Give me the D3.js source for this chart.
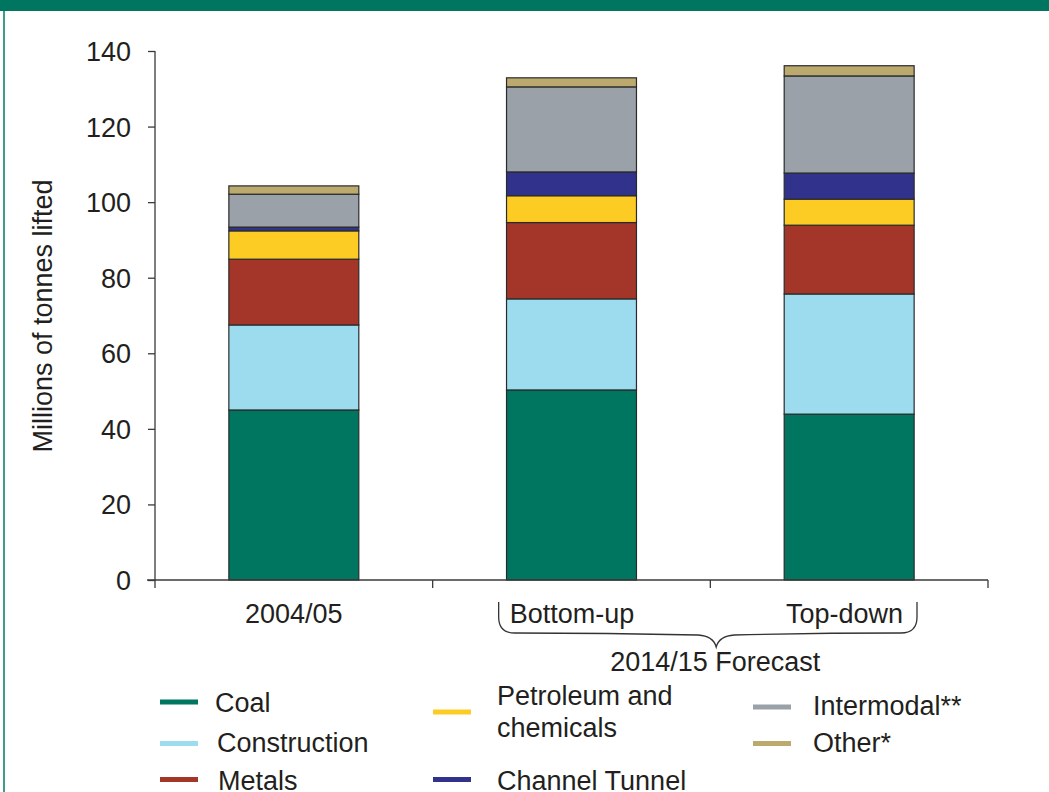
<!DOCTYPE html>
<html><head><meta charset="utf-8">
<script src="https://cdn.jsdelivr.net/npm/d3@7"></script>
<style>
html,body{margin:0;padding:0;background:#fff;}
svg{display:block;font-family:"Liberation Sans",Arial,Helvetica,sans-serif;}
</style></head>
<body>
<svg id="chart" width="1049" height="792"></svg>
<script>
const categories = ["2004/05", "Bottom-up", "Top-down"];
const seriesNames = ["Coal", "Construction", "Metals", "Petroleum and chemicals", "Channel Tunnel", "Intermodal**", "Other*"];
const coal         = [45.0, 50.3, 43.9];
const construction = [22.5, 24.1, 31.8];
const metals       = [17.4, 20.2, 18.2];
const petroleum    = [7.5, 7.1, 6.9];
const channel      = [1.0, 6.3, 6.9];
const intermodal   = [8.7, 22.5, 25.7];
const other        = [2.2, 2.4, 2.7];
const yTicks = [0, 20, 40, 60, 80, 100, 120, 140];
const colors = ["#00755f", "#9ddcee", "#a33628", "#fccc25", "#31328c", "#9aa1a8", "#bca96e"];
const groupLabel = "2014/15 Forecast";
const yTitle = "Millions of tonnes lifted";

(function () {
const seriesValues = [coal, construction, metals, petroleum, channel, intermodal, other];
const keys = ["coal","construction","metals","petroleum","channel","intermodal","other"];
const table = categories.map((c, i) => {
  const row = {category: c};
  keys.forEach((k, j) => row[k] = seriesValues[j][i]);
  return row;
});

const svg = d3.select("#chart");
const textColor = "#231f20";
const axisColor = "#3a3a3a";
const fs = "27px";

// frame
svg.append("rect").attr("x", 0).attr("y", 0).attr("width", 1049).attr("height", 11).attr("fill", "#00755f");
svg.append("line").attr("x1", 4).attr("x2", 4).attr("y1", 11).attr("y2", 792)
  .attr("stroke", "#3f9d8b").attr("stroke-width", 2);

const x = d3.scaleBand().domain(categories).range([155, 988]).paddingInner(0.532).paddingOuter(0.266);
const y = d3.scaleLinear().domain([0, 140]).range([580, 51]);

const stacked = d3.stack().keys(keys)(table);

svg.append("g").selectAll("g.layer").data(stacked).join("g").attr("class", "layer")
  .attr("fill", (d, i) => colors[i])
  .selectAll("rect").data(d => d).join("rect")
  .attr("x", d => x(d.data.category))
  .attr("width", x.bandwidth())
  .attr("y", d => y(d[1]))
  .attr("height", d => y(d[0]) - y(d[1]))
  .attr("stroke", "#2a2a2a").attr("stroke-width", 1.2);

// y axis
const yAxis = svg.append("g").attr("transform", "translate(155,0)")
  .call(d3.axisLeft(y).tickValues(yTicks).tickSize(7).tickPadding(17).tickFormat(d3.format("d")));
yAxis.select(".domain").attr("d", `M0,${y(140)}V${y(0) + 8}`).attr("stroke", axisColor).attr("stroke-width", 1.3);
yAxis.selectAll(".tick line").attr("stroke", axisColor).attr("stroke-width", 1.3);
yAxis.selectAll(".tick text").attr("fill", textColor).style("font-size", fs).attr("dy", "0.35em");

// x axis line with ticks at band boundaries
const xa = x.range()[0], xb = x.range()[1];
svg.append("line").attr("x1", xa - 8).attr("x2", xb).attr("y1", y(0)).attr("y2", y(0))
  .attr("stroke", axisColor).attr("stroke-width", 1.3);
const half = x.step() * x.paddingInner() / 2;
const bounds = categories.slice(1).map(c => x(c) - half).concat([xb]);
svg.selectAll("line.xt").data(bounds).join("line").attr("class", "xt")
  .attr("x1", d => d).attr("x2", d => d).attr("y1", y(0)).attr("y2", y(0) + 8)
  .attr("stroke", axisColor).attr("stroke-width", 1.3);

// category labels
svg.append("text").attr("x", x(categories[0]) + x.bandwidth() / 2).attr("y", 623)
  .attr("text-anchor", "middle").attr("fill", textColor).style("font-size", fs).text(categories[0]);
svg.append("text").attr("x", bounds[0] + 77).attr("y", 623)
  .attr("text-anchor", "start").attr("fill", textColor).style("font-size", fs).text(categories[1]);
svg.append("text").attr("x", xb - 85).attr("y", 623)
  .attr("text-anchor", "end").attr("fill", textColor).style("font-size", fs).text(categories[2]);

// brace
const bl = bounds[0] + 66, br = xb - 71;
const bm = bl + (br - bl) * 0.52;
const bTop = 602, bMid = 633, bTip = 647, r = 16;
const brace = d3.path();
brace.moveTo(bl, bTop);
brace.lineTo(bl, bMid - r);
brace.quadraticCurveTo(bl, bMid, bl + r, bMid);
brace.quadraticCurveTo((bl + bm) / 2, bMid, bm - 18, bMid + 2);
brace.quadraticCurveTo(bm - 3, bMid + 3, bm, bTip);
brace.quadraticCurveTo(bm + 3, bMid + 3, bm + 18, bMid + 2);
brace.quadraticCurveTo((bm + br) / 2, bMid, br - r, bMid);
brace.quadraticCurveTo(br, bMid, br, bMid - r);
brace.lineTo(br, bTop);
svg.append("path").attr("d", brace.toString()).attr("fill", "none").attr("stroke", "#333").attr("stroke-width", 1.3);
svg.append("text").attr("x", bm - 1).attr("y", 671).attr("text-anchor", "middle")
  .attr("fill", textColor).style("font-size", fs).text(groupLabel);

// y title
svg.append("text").attr("transform", "translate(52,316) rotate(-90)").attr("text-anchor", "middle")
  .attr("fill", textColor).style("font-size", fs).text(yTitle);

// legend
const legendItems = [
  {i: 0, sx: 160, sy: 702, tx: 215, lines: ["Coal"], ty: [712]},
  {i: 1, sx: 160, sy: 743.5, tx: 217, lines: ["Construction"], ty: [752]},
  {i: 2, sx: 160, sy: 779.5, tx: 218, lines: ["Metals"], ty: [790]},
  {i: 3, sx: 433, sy: 712, tx: 497, lines: ["Petroleum and", "chemicals"], ty: [705, 737]},
  {i: 4, sx: 433, sy: 779.5, tx: 497, lines: ["Channel Tunnel"], ty: [790]},
  {i: 5, sx: 753, sy: 707, tx: 813, lines: ["Intermodal**"], ty: [715]},
  {i: 6, sx: 753, sy: 743.5, tx: 813, lines: ["Other*"], ty: [752]}
];
const lg = svg.append("g");
legendItems.forEach(it => {
  lg.append("rect").attr("x", it.sx).attr("y", it.sy - 2.5).attr("width", 38).attr("height", 5).attr("fill", colors[it.i]);
  it.lines.forEach((ln, k) => {
    lg.append("text").attr("x", it.tx).attr("y", it.ty[k]).attr("fill", textColor).style("font-size", fs).text(ln);
  });
});
})();
</script>
</body></html>
